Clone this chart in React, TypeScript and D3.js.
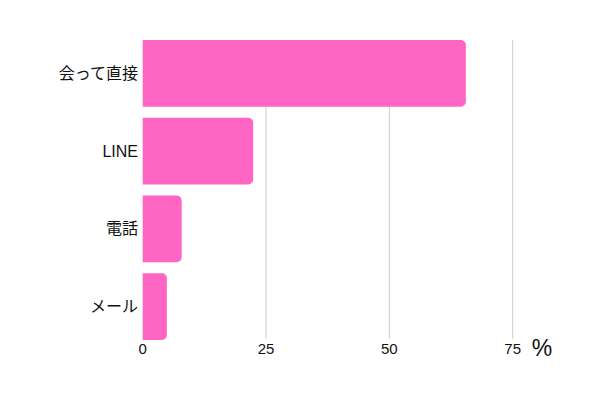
import React, { useEffect, useRef } from 'react';
import * as d3 from 'd3';

const categories = ['会って直接', 'LINE', '電話', 'メール'];
const values = [65.5, 22.4, 7.9, 4.9];
const ticks = [0, 25, 50, 75];

export default function App() {
    const svgRef = useRef<SVGSVGElement>(null);

    useEffect(() => {
        if (!svgRef.current) return;
        const width = 600;
        const height = 400;
        const svg = d3.select(svgRef.current);
        svg.selectAll('*').remove();
        svg.attr('width', width).attr('height', height)
            .style('font-family', '"Liberation Sans", Arial, "Noto Sans CJK JP", sans-serif');

        const x = d3.scaleLinear().domain([0, 75]).range([142.7, 512.7]);
        const y = d3.scaleBand<string>().domain(categories).range([40, 340]).paddingInner(0.14).paddingOuter(0);

        // gridlines
        svg.append('g')
            .selectAll('line')
            .data(ticks.filter(t => t > 0))
            .join('line')
            .attr('x1', d => x(d)).attr('x2', d => x(d))
            .attr('y1', 40).attr('y2', 339)
            .attr('stroke', '#cccccc')
            .attr('stroke-width', 1);

        // bars, rounded on the right side only
        const r = 5;
        svg.append('g')
            .selectAll('path')
            .data(categories.map((c, i) => ({ c, v: values[i] })))
            .join('path')
            .attr('fill', '#ff66c4')
            .attr('d', d => {
                const x0 = x(0);
                const x1 = x(d.v);
                const y0 = y(d.c)!;
                const y1 = y0 + y.bandwidth();
                const p = d3.path();
                p.moveTo(x0, y0);
                p.lineTo(x1 - r, y0);
                p.arcTo(x1, y0, x1, y0 + r, r);
                p.lineTo(x1, y1 - r);
                p.arcTo(x1, y1, x1 - r, y1, r);
                p.lineTo(x0, y1);
                p.closePath();
                return p.toString();
            });

        // category labels
        svg.append('g')
            .selectAll('text')
            .data(categories)
            .join('text')
            .attr('x', 138)
            .attr('y', d => y(d)! + y.bandwidth() / 2)
            .attr('text-anchor', 'end')
            .attr('dominant-baseline', 'central')
            .attr('fill', '#111')
            .style('font-size', '16px')
            .text(d => d);

        // tick labels
        svg.append('g')
            .selectAll('text')
            .data(ticks)
            .join('text')
            .attr('x', d => x(d))
            .attr('y', 354)
            .attr('text-anchor', 'middle')
            .attr('fill', '#111')
            .style('font-size', '15px')
            .text(d => d);

        svg.append('text')
            .attr('x', 542)
            .attr('y', 356)
            .attr('text-anchor', 'middle')
            .attr('fill', '#111')
            .style('font-size', '23px')
            .text('%');
    }, []);

    return (
        <div style={{ width: 600, height: 400, margin: -8, background: '#fff' }}>
            <svg ref={svgRef}></svg>
        </div>
    );
}
